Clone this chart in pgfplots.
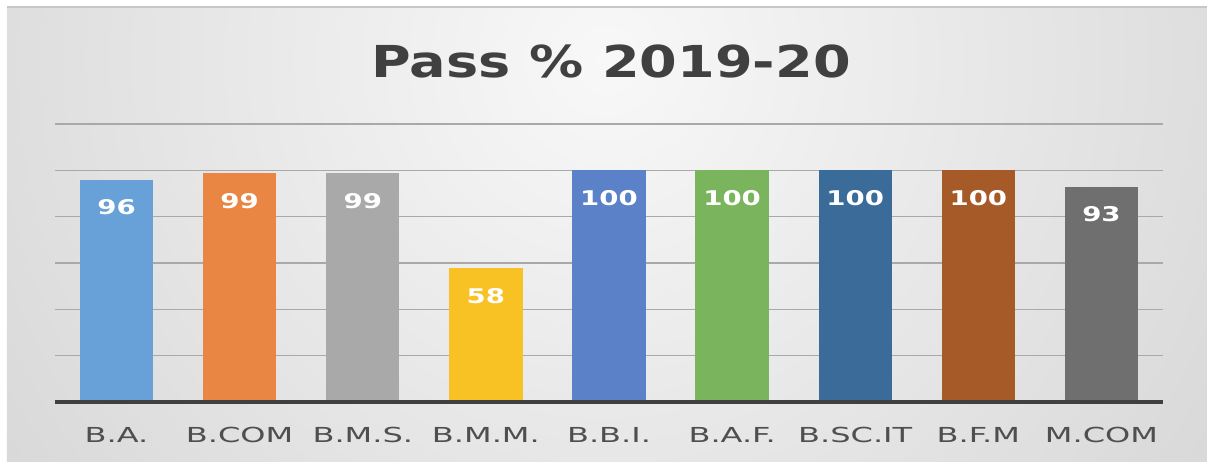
\documentclass[border=0pt]{standalone}
\usepackage{pgfplots}
\pgfplotsset{compat=1.18}
\usepackage{fontspec}
\setmainfont{DejaVu Sans}
\usepackage{graphicx}
\definecolor{cBA}{HTML}{67A1D7}
\definecolor{cBCOM}{HTML}{EA8643}
\definecolor{cBMS}{HTML}{A9A9A9}
\definecolor{cBMM}{HTML}{F8C124}
\definecolor{cBBI}{HTML}{5B81C8}
\definecolor{cBAF}{HTML}{7AB45C}
\definecolor{cBSC}{HTML}{3B6B99}
\definecolor{cBFM}{HTML}{A65A28}
\definecolor{cMCOM}{HTML}{6F6F6F}
\definecolor{txt}{HTML}{404040}
\definecolor{tick}{HTML}{4F4F4F}
\definecolor{grid}{HTML}{A9A9A9}
\definecolor{bgin}{HTML}{F8F8F8}
\definecolor{bgout}{HTML}{C4C4C4}
\newcommand\sx[1]{\scalebox{1.55}[1]{#1}}
\begin{document}
\begin{tikzpicture}
\useasboundingbox (-41.25pt,-44.25pt) rectangle (864pt,301.5pt);
\begin{scope}
\clip (-36pt,-44.25pt) rectangle (864pt,296.25pt);
\shade[inner color=bgin, outer color=bgout] (412.5pt,256.5pt) circle (900pt);
\end{scope}
\draw[color=black!22, line width=0.8pt] (-36pt,296.25pt) -- (864pt,296.25pt);
\begin{axis}[
  at={(0pt,0pt)}, anchor=south west,
  scale only axis, width=831pt, height=208.5pt,
  xmin=-0.5, xmax=8.5, ymin=0, ymax=120,
  axis line style={draw=none},
  major tick length=0pt,
  ytick={20,40,60,80,100,120}, yticklabels={},
  ymajorgrids, grid style={color=grid, line width=1.1pt},
  xtick={0,...,8},
  xticklabels={\sx{B.A.},\sx{B.COM},\sx{B.M.S.},\sx{B.M.M.},\sx{B.B.I.},\sx{B.A.F.},\sx{B.SC.IT},\sx{B.F.M},\sx{M.COM}},
  xticklabel style={font=\fontsize{15.5pt}{18pt}\selectfont, color=tick, anchor=base, yshift=-30pt},
  every axis plot/.append style={ybar, bar shift=0pt, bar width=0.595, draw=none},
  nodes near coords={\scalebox{1.36}[1]{\pgfmathprintnumber[assume math mode=true]{\pgfplotspointmeta}}},
  every node near coord/.append style={font=\bfseries\fontsize{15.2pt}{18pt}\selectfont, color=white, anchor=center, yshift=-21pt},
  clip=false,
]
\addplot[fill=cBA] coordinates {(0,96)};
\addplot[fill=cBCOM] coordinates {(1,99)};
\addplot[fill=cBMS] coordinates {(2,99)};
\addplot[fill=cBMM] coordinates {(3,58)};
\addplot[fill=cBBI] coordinates {(4,100)};
\addplot[fill=cBAF] coordinates {(5,100)};
\addplot[fill=cBSC] coordinates {(6,100)};
\addplot[fill=cBFM] coordinates {(7,100)};
\addplot[fill=cMCOM] coordinates {(8,93)};
\draw[color=black!75, line width=2.6pt] (rel axis cs:0,0) -- (rel axis cs:1,0);
\end{axis}
\node[font=\bfseries\fontsize{33pt}{38pt}\selectfont, color=txt, anchor=center] at (417pt,255.75pt) {\scalebox{1.23}[1]{Pass \% 2019-20}};
\end{tikzpicture}
\end{document}
